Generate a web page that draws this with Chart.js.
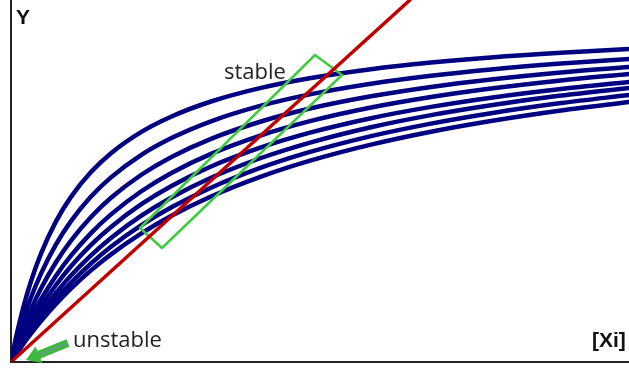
<!DOCTYPE html>
<html>
<head>
<meta charset="utf-8">
<script src="https://cdn.jsdelivr.net/npm/chart.js@4"></script>
<style>
  html, body { margin: 0; padding: 0; background: #fff; }
  #wrap { width: 629px; height: 370px; }
</style>
</head>
<body>
<div id="wrap"><canvas id="stabilityChart" width="629" height="370"></canvas></div>
<script>
const xValues = [0, 5, 12, 20, 30, 45, 60, 80, 100, 130, 160, 200, 250, 300, 360, 420, 480, 550, 618];

// eight saturation curves, top to bottom
const curve1 = [0, 24.4, 53.4, 80.7, 108.4, 140.6, 165.1, 189.9, 208.8, 229.9, 245.3, 260.5, 274.1, 284.0, 292.8, 299.4, 304.6, 309.3, 313.0];
const curve2 = [0, 18.7, 41.8, 64.5, 88.4, 117.6, 140.9, 165.4, 184.6, 206.9, 223.7, 240.7, 256.3, 267.9, 278.3, 286.3, 292.6, 298.4, 303.0];
const curve3 = [0, 14.9, 33.6, 52.7, 73.5, 99.7, 121.4, 145.0, 164.2, 187.0, 204.8, 223.2, 240.5, 253.7, 265.7, 275.1, 282.5, 289.5, 295.0];
const curve4 = [0, 12.3, 28.0, 44.4, 62.6, 86.3, 106.4, 128.9, 147.6, 170.5, 188.8, 208.1, 226.7, 241.1, 254.5, 265.0, 273.5, 281.6, 288.0];
const curve5 = [0, 10.6, 24.5, 39.0, 55.4, 77.0, 95.7, 117.1, 135.1, 157.6, 175.8, 195.5, 214.6, 229.6, 243.8, 255.1, 264.3, 273.0, 280.0];
const curve6 = [0, 9.3, 21.4, 34.4, 49.2, 69.0, 86.5, 106.7, 124.1, 146.1, 164.3, 184.2, 204.0, 219.7, 234.8, 246.9, 256.8, 266.4, 274.0];
const curve7 = [0, 8.3, 19.3, 31.0, 44.6, 63.0, 79.3, 98.5, 115.2, 136.6, 154.5, 174.3, 194.3, 210.3, 225.9, 238.4, 248.8, 258.9, 267.0];
const curve8 = [0, 7.5, 17.6, 28.3, 40.9, 58.0, 73.4, 91.6, 107.6, 128.3, 145.9, 165.5, 185.4, 201.6, 217.4, 230.3, 241.0, 251.5, 260.0];
const curves = [curve1, curve2, curve3, curve4, curve5, curve6, curve7, curve8];

// straight line through the origin
const lineX = [0, 399];
const lineY = [0, 362];

// corners of the "stable" box
const boxX = [129, 304, 331, 151, 129];
const boxY = [134, 307, 287, 114, 134];

// "unstable" arrow (tail, tip)
const arrowX = [57, 15];
const arrowY = [19, 2];

const xMax = 618;
const yMax = 362;

function toPoints(xs, ys) {
    return xs.map((x, i) => ({ x: x, y: ys[i] }));
}

// text labels and the arrow
const annotations = {
    id: 'annotations',
    afterDatasetsDraw(chart) {
        const ctx = chart.ctx;
        const xs = chart.scales.x;
        const ys = chart.scales.y;
        ctx.save();

        // arrow
        const tx = xs.getPixelForValue(arrowX[0]), ty = ys.getPixelForValue(arrowY[0]);
        const hx = xs.getPixelForValue(arrowX[1]), hy = ys.getPixelForValue(arrowY[1]);
        const len = Math.hypot(hx - tx, hy - ty);
        const ux = (hx - tx) / len, uy = (hy - ty) / len;
        const nx = -uy, ny = ux;
        const bx = hx - ux * 14, by = hy - uy * 14;
        ctx.beginPath();
        ctx.moveTo(tx + nx * 4, ty + ny * 4);
        ctx.lineTo(bx + nx * 4, by + ny * 4);
        ctx.lineTo(bx + nx * 9, by + ny * 9);
        ctx.lineTo(hx, hy);
        ctx.lineTo(bx - nx * 9, by - ny * 9);
        ctx.lineTo(bx - nx * 4, by - ny * 4);
        ctx.lineTo(tx - nx * 4, ty - ny * 4);
        ctx.closePath();
        ctx.fillStyle = '#3cb93f';
        ctx.fill();
        ctx.beginPath();
        ctx.moveTo(tx, ty);
        ctx.lineTo(bx, by);
        ctx.strokeStyle = '#6f93a0';
        ctx.lineWidth = 1.5;
        ctx.stroke();

        // texts
        ctx.fillStyle = '#111';
        ctx.textBaseline = 'alphabetic';
        ctx.textAlign = 'left';
        ctx.font = 'bold 21px "Liberation Sans", Arial, sans-serif';
        ctx.fillText('Y', 16, 24);
        ctx.fillText('[Xi]', 592, 347);

        ctx.fillStyle = '#222';
        ctx.font = '22px "Open Sans", sans-serif';
        ctx.fillText('stable', 224, 79);
        ctx.fillText('unstable', 73, 347);
        ctx.restore();
    }
};

function buildDatasets() {
    const sets = [];
    sets.push({
        data: toPoints(lineX, lineY),
        borderColor: '#c00000',
        borderWidth: 3.5,
        pointRadius: [2.5, 0],
        pointBorderColor: '#700000',
        pointBackgroundColor: 'rgba(0,0,0,0)',
        pointBorderWidth: 1
    });
    sets.push({
        data: toPoints(boxX, boxY),
        borderColor: '#3fcb3f',
        borderWidth: 2.5,
        borderJoinStyle: 'round',
        pointRadius: 0,
        tension: 0
    });
    curves.forEach(c => {
        sets.push({
            data: toPoints(xValues, c),
            borderColor: '#000080',
            borderWidth: 4.5,
            pointRadius: 0,
            cubicInterpolationMode: 'monotone'
        });
    });
    return sets;
}

function drawChart() {
    const ctx = document.getElementById('stabilityChart').getContext('2d');
    new Chart(ctx, {
        type: 'scatter',
        data: { datasets: buildDatasets() },
        options: {
            responsive: false,
            animation: false,
            devicePixelRatio: 1,
            showLine: true,
            layout: { autoPadding: false, padding: { left: 11, right: 0, top: 0, bottom: 8 } },
            plugins: { legend: { display: false }, tooltip: { enabled: false } },
            elements: { line: { borderCapStyle: 'round' } },
            scales: {
                x: {
                    type: 'linear', min: 0, max: xMax,
                    ticks: { display: false },
                    grid: { display: false, drawTicks: false },
                    border: { display: true, color: '#222', width: 2 }
                },
                y: {
                    type: 'linear', min: 0, max: yMax,
                    ticks: { display: false },
                    grid: { display: false, drawTicks: false },
                    border: { display: true, color: '#222', width: 2 }
                }
            }
        },
        plugins: [annotations]
    });
}

drawChart();
</script>
</body>
</html>
